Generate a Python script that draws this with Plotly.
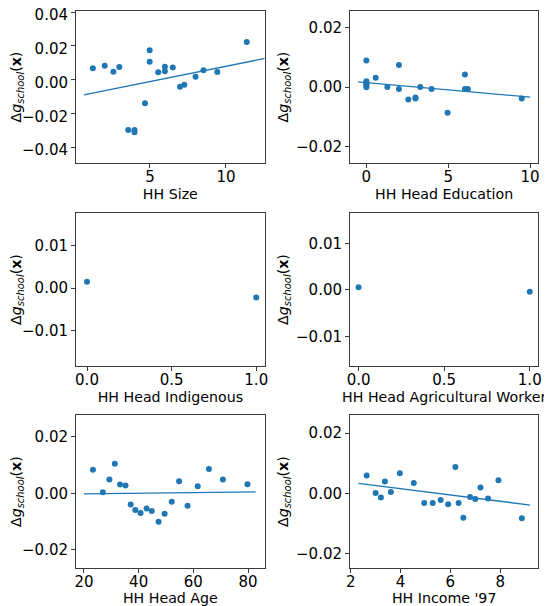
import plotly.graph_objects as go

# ---------------- data ----------------
size_x = [1.24, 2.02, 2.59, 2.98, 3.57, 3.98, 3.98, 4.67, 4.98, 4.98, 5.54, 5.98, 5.98, 6.5, 6.98, 7.26, 8.0, 8.52, 9.43, 11.37]
size_y = [0.0067, 0.0082, 0.0047, 0.0075, -0.0298, -0.0298, -0.0312, -0.0141, 0.0173, 0.0106, 0.0043, 0.0076, 0.0049, 0.0071, -0.0043, -0.0031, 0.0016, 0.0055, 0.0045, 0.0222]
size_fit_x = [0.65, 12.55]
size_fit_y = [-0.0090, 0.0125]

edu_x = [0, 0, 0, 0, 0, 0, 0.57, 1.28, 1.99, 1.99, 2.56, 3.0, 3.0, 3.29, 3.98, 4.96, 6.02, 6.02, 6.2, 9.49]
edu_y = [0.0089, 0.0019, 0.0014, 0.0009, 0.0004, -0.0001, 0.0031, 0.0, 0.0074, -0.0007, -0.0042, -0.0035, -0.0039, 0.0, -0.0007, -0.0087, 0.0042, -0.0007, -0.0007, -0.0039]
edu_fit_x = [-0.51, 10.0]
edu_fit_y = [0.0017, -0.0034]

indig_x = [0.0, 1.0]
indig_y = [0.0015, -0.0022]

agri_x = [0.0, 1.0]
agri_y = [0.0006, -0.0004]

age_x = [23.3, 26.9, 29.3, 31.3, 33.2, 35.2, 37.1, 38.8, 40.7, 42.9, 44.8, 47.3, 49.5, 52.1, 54.8, 57.9, 61.6, 65.7, 70.8, 79.8]
age_y = [0.0084, 0.0004, 0.0049, 0.0105, 0.0031, 0.0028, -0.0040, -0.0059, -0.0070, -0.0054, -0.0063, -0.0101, -0.0072, -0.0030, 0.0043, -0.0044, 0.0025, 0.0086, 0.0049, 0.0032]
age_fit_x = [20.0, 82.8]
age_fit_y = [-0.0002, 0.0005]

inc_x = [2.64, 3.0, 3.21, 3.37, 3.61, 3.97, 4.53, 4.95, 5.29, 5.61, 5.91, 6.2, 6.33, 6.52, 6.79, 7.0, 7.21, 7.51, 7.93, 8.87]
inc_y = [0.0059, 0.0001, -0.0014, 0.0039, 0.0004, 0.0067, 0.0034, -0.0032, -0.0032, -0.0022, -0.0036, 0.0087, -0.0032, -0.0081, -0.0012, -0.0019, 0.0019, -0.0017, 0.0043, -0.0083]
inc_fit_x = [2.31, 9.2]
inc_fit_y = [0.0033, -0.0039]

x_titles = ["HH Size", "HH Head Education", "HH Head Indigenous",
            "HH Head Agricultural Worker", "HH Head Age", "HH Income '97"]
y_title = "Δ<i>g</i><sub><i>school</i></sub>(<b>x</b>)"

# ---------------- layout geometry ----------------
# the page body has an 8px margin; figure covers page pixels 8..552 / 8..606
OFF = 8
W, H = 552 - OFF, 606 - OFF
cols = [(76, 264.7), (350, 538.3)]
rows = [(10.7, 163.3), (213.3, 365.7), (415, 568.3)]

x_ranges = [[0.13, 12.55], [-1.0, 10.5], [-0.065, 1.05], [-0.05, 1.05], [17.1, 86.1], [1.97, 9.53]]
y_ranges = [[-0.0496, 0.0408], [-0.0257, 0.0257], [-0.0182, 0.0176], [-0.0163, 0.0165], [-0.0266, 0.0278], [-0.0249, 0.0260]]
x_dticks = [5, 5, 0.5, 0.5, 20, 2]
x_formats = ["d", "d", ".1f", ".1f", "d", "d"]
y_dticks = [0.02, 0.02, 0.01, 0.01, 0.02, 0.02]
y_label_shift = [3, 0, 0, 0, 0, 0]   # nudge the top "0.04" label down inside the page

blue = "#1f77b4"
frame = "#3a3a3a"
tick_font = dict(family="DejaVu Sans", size=15, color="black")
title_font = dict(family="DejaVu Sans", size=14.2, color="black")

panels = [
    (size_x, size_y, size_fit_x, size_fit_y),
    (edu_x, edu_y, edu_fit_x, edu_fit_y),
    (indig_x, indig_y, None, None),
    (agri_x, agri_y, None, None),
    (age_x, age_y, age_fit_x, age_fit_y),
    (inc_x, inc_y, inc_fit_x, inc_fit_y),
]

fig = go.Figure()
layout = dict(
    width=W, height=H,
    margin=dict(l=0, r=0, t=0, b=0, autoexpand=False),
    paper_bgcolor="white", plot_bgcolor="white",
    showlegend=False, font=tick_font,
)

for i, (px, py, fx, fy) in enumerate(panels):
    r, c = divmod(i, 2)
    n = "" if i == 0 else str(i + 1)
    xa, ya = "x" + n, "y" + n
    fig.add_trace(go.Scatter(x=px, y=py, mode="markers", xaxis=xa, yaxis=ya,
                             marker=dict(color=blue, size=6, line=dict(width=0))))
    if fx is not None:
        fig.add_trace(go.Scatter(x=fx, y=fy, mode="lines", xaxis=xa, yaxis=ya,
                                 line=dict(color=blue, width=1.3)))
    x0, x1 = (v - OFF for v in cols[c])
    y0, y1 = (v - OFF for v in rows[r])
    common = dict(showgrid=False, zeroline=False, showline=True, mirror=True,
                  linecolor=frame, linewidth=1, ticks="outside", ticklen=4,
                  tickwidth=1, tickcolor=frame, tickfont=tick_font,
                  ticklabeloverflow="allow", automargin=False)
    layout["xaxis" + n] = dict(
        domain=[x0 / W, x1 / W], anchor=ya, range=x_ranges[i],
        dtick=x_dticks[i], tick0=0, tickformat=x_formats[i],
        ticklabelstandoff=-4,
        title=dict(text=x_titles[i], font=title_font, standoff=0), **common)
    layout["yaxis" + n] = dict(
        domain=[1 - y1 / H, 1 - y0 / H], anchor=xa, range=y_ranges[i],
        dtick=y_dticks[i], tick0=0, tickformat=".2f",
        ticklabelshift=y_label_shift[i],
        title=dict(text=y_title, font=title_font, standoff=4), **common)

fig.update_layout(**layout)
fig.write_html("out.html", config={"displayModeBar": False})
